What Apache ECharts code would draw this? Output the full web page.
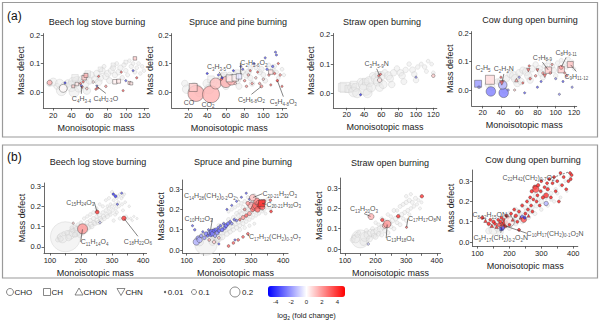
<!DOCTYPE html>
<html>
<head>
<meta charset="utf-8">
<script src="https://cdn.jsdelivr.net/npm/echarts@6/dist/echarts.min.js"></script>
<style>
html, body { margin: 0; padding: 0; background: #fff; }
#main { width: 600px; height: 325px; }
</style>
</head>
<body>
<div id="main"></div>
<script>
var FONT = '"Liberation Sans", Arial, Helvetica, sans-serif';

// axis ticks and legend keys
var massTicksA = [20, 40, 60, 80, 100, 120];
var massTicksB = [100, 200, 300, 400];
var massMinorB = [100, 150, 200, 250, 300, 350, 400];
var defectTicksA = [0, 0.1, 0.2];
var defectTicksB = [0, 0.1, 0.2, 0.3];
var panelTitles = ['Beech log stove burning', 'Spruce and pine burning', 'Straw open burning', 'Cow dung open burning'];
var shapeKeys = ['o', 's', 't', 'v'];
var shapeNames = ['CHO', 'CH', 'CHON', 'CHN'];
var sizeKeys = [0.01, 0.1, 0.2];
var colorTicks = [-4, -2, 0, 2, 4];

// background (all molecules): [mass, mass defect, fraction, shape]
var beechA_bg = [[16,0.03,0.12,'o'],[20,0.035,0.16,'o'],[24,0.02,0.12,'o'],[27,0.03,0.17,'o'],[29,0.005,0.2,'o'],[32,0.02,0.16,'o'],[36,0.03,0.15,'o'],[40,0.02,0.21,'o'],[42,0.035,0.19,'o'],[43,0.0,0.2,'o'],[46,0.04,0.17,'o'],[48,0.015,0.17,'o'],[52,0.045,0.15,'o'],[54,0.03,0.19,'o'],[56,0.055,0.16,'o'],[57,0.005,0.15,'o'],[60,0.04,0.14,'o'],[62,0.06,0.13,'o'],[66,0.045,0.14,'o'],[68,0.065,0.13,'o'],[70,0.035,0.14,'o'],[72,0.05,0.13,'o'],[74,0.075,0.12,'o'],[76,0.09,0.08,'o'],[78,0.055,0.13,'o'],[80,0.065,0.13,'o'],[82,0.04,0.12,'o'],[84,0.075,0.12,'o'],[86,0.085,0.11,'o'],[88,0.06,0.11,'o'],[90,0.1,0.075,'o'],[92,0.07,0.11,'o'],[94,0.085,0.11,'o'],[96,0.05,0.09,'o'],[98,0.095,0.09,'o'],[100,0.075,0.09,'o'],[102,0.06,0.08,'o'],[104,0.11,0.07,'o'],[106,0.09,0.09,'o'],[108,0.1,0.075,'o'],[110,0.07,0.08,'o'],[112,0.085,0.075,'o'],[114,0.1,0.075,'o'],[116,0.065,0.07,'o'],[118,0.09,0.07,'o'],[120,0.075,0.07,'o'],[44,0.05,0.13,'s'],[58,0.065,0.11,'s'],[72,0.08,0.09,'s'],[86,0.095,0.08,'s'],[100,0.105,0.075,'s']];
var spruceA_bg = [[16,0.03,0.13,'o'],[18,0.01,0.17,'o'],[26,0.02,0.15,'o'],[30,0.01,0.17,'o'],[32,0.0,0.19,'o'],[40,0.03,0.17,'o'],[42,0.01,0.19,'o'],[46,0.03,0.15,'o'],[54,0.04,0.15,'o'],[56,0.05,0.17,'o'],[58,0.03,0.15,'o'],[60,0.02,0.13,'o'],[64,0.06,0.11,'o'],[68,0.05,0.13,'o'],[70,0.06,0.13,'o'],[72,0.04,0.13,'o'],[74,0.02,0.12,'o'],[78,0.07,0.1,'o'],[82,0.06,0.13,'o'],[84,0.07,0.12,'o'],[86,0.05,0.11,'o'],[88,0.03,0.11,'o'],[92,0.085,0.08,'o'],[96,0.07,0.11,'o'],[98,0.08,0.11,'o'],[100,0.06,0.1,'o'],[102,0.04,0.1,'o'],[106,0.095,0.08,'o'],[110,0.08,0.1,'o'],[112,0.09,0.08,'o'],[114,0.07,0.08,'o'],[116,0.05,0.075,'o'],[120,0.08,0.075,'o'],[122,0.06,0.07,'o'],[44,0.045,0.13,'s'],[58,0.06,0.11,'s'],[72,0.07,0.09,'s'],[86,0.085,0.08,'s']];
var strawA_bg = [[15,0.02,0.16,'s'],[18,0.02,0.2,'s'],[22,0.015,0.14,'s'],[26,0.02,0.17,'o'],[28,0.005,0.2,'o'],[28,0.03,0.13,'s'],[30,0.02,0.16,'o'],[32,0.0,0.18,'o'],[36,0.04,0.13,'o'],[40,0.03,0.22,'o'],[42,0.015,0.26,'o'],[42,0.04,0.13,'s'],[44,0.0,0.18,'o'],[46,0.04,0.2,'o'],[48,0.02,0.18,'o'],[50,0.06,0.13,'o'],[54,0.05,0.2,'o'],[56,0.04,0.18,'o'],[56,0.065,0.11,'s'],[58,0.02,0.16,'o'],[60,0.06,0.17,'o'],[62,0.03,0.16,'o'],[64,0.07,0.13,'o'],[68,0.06,0.16,'o'],[70,0.05,0.14,'o'],[72,0.03,0.13,'o'],[74,0.07,0.13,'o'],[78,0.085,0.11,'o'],[82,0.07,0.13,'o'],[84,0.06,0.13,'o'],[86,0.04,0.12,'o'],[88,0.08,0.11,'o'],[92,0.1,0.09,'o'],[96,0.08,0.12,'o'],[98,0.065,0.11,'o'],[100,0.045,0.11,'o'],[102,0.09,0.09,'o'],[106,0.1,0.08,'o'],[110,0.09,0.09,'o'],[112,0.075,0.08,'o'],[114,0.11,0.075,'o'],[118,0.1,0.075,'o'],[120,0.07,0.075,'o']];
var cowA_bg = [[26,0.02,0.13,'o'],[30,0.01,0.13,'o'],[36,0.03,0.11,'o'],[40,0.03,0.15,'o'],[42,0.015,0.17,'o'],[44,0.0,0.13,'o'],[46,0.04,0.13,'o'],[50,0.055,0.13,'o'],[54,0.05,0.17,'o'],[56,0.04,0.17,'o'],[58,0.025,0.15,'o'],[60,0.06,0.14,'o'],[62,0.03,0.13,'o'],[64,0.07,0.13,'o'],[68,0.065,0.16,'o'],[70,0.05,0.15,'o'],[72,0.035,0.13,'o'],[74,0.075,0.13,'o'],[78,0.09,0.11,'o'],[82,0.075,0.13,'o'],[84,0.06,0.13,'o'],[86,0.045,0.11,'o'],[88,0.085,0.11,'o'],[92,0.1,0.09,'o'],[96,0.085,0.11,'o'],[98,0.07,0.11,'o'],[100,0.05,0.09,'o'],[102,0.095,0.09,'o'],[106,0.105,0.08,'o'],[110,0.095,0.08,'o'],[112,0.08,0.075,'o'],[114,0.11,0.075,'o'],[118,0.1,0.07,'o'],[120,0.075,0.07,'o']];
var beechB_bg = [[150,0.05,0.6,'o'],[140,0.045,0.2,'o'],[165,0.06,0.18,'o'],[175,0.07,0.16,'o'],[175,0.08,0.1,'o'],[185,0.065,0.12,'o'],[190,0.075,0.14,'o'],[195,0.06,0.1,'o'],[200,0.085,0.14,'o'],[125,0.035,0.085,'o'],[130,0.05,0.08,'o'],[135,0.04,0.1,'o'],[145,0.065,0.085,'o'],[155,0.07,0.09,'o'],[160,0.045,0.12,'o'],[170,0.085,0.08,'o'],[170,0.095,0.07,'o'],[180,0.06,0.1,'o'],[180,0.1,0.07,'o'],[185,0.09,0.085,'o'],[190,0.11,0.07,'o'],[195,0.1,0.08,'o'],[200,0.12,0.07,'o'],[205,0.07,0.1,'o'],[210,0.105,0.085,'o'],[210,0.14,0.065,'o'],[212,0.09,0.12,'o'],[215,0.08,0.09,'o'],[220,0.12,0.08,'o'],[220,0.15,0.065,'o'],[222,0.1,0.1,'o'],[225,0.095,0.09,'o'],[230,0.13,0.08,'o'],[230,0.16,0.07,'o'],[232,0.11,0.1,'o'],[235,0.1,0.085,'o'],[240,0.14,0.08,'o'],[240,0.17,0.07,'o'],[242,0.12,0.09,'o'],[245,0.115,0.085,'o'],[250,0.15,0.07,'o'],[250,0.19,0.065,'o'],[252,0.13,0.09,'o'],[255,0.12,0.085,'o'],[260,0.155,0.08,'o'],[260,0.21,0.06,'o'],[262,0.14,0.08,'o'],[265,0.13,0.085,'o'],[270,0.17,0.07,'o'],[270,0.2,0.065,'o'],[272,0.15,0.08,'o'],[275,0.14,0.08,'o'],[280,0.18,0.07,'o'],[280,0.23,0.06,'o'],[282,0.16,0.075,'o'],[285,0.15,0.08,'o'],[285,0.2,0.06,'o'],[290,0.19,0.065,'o'],[290,0.24,0.065,'o'],[292,0.17,0.07,'o'],[295,0.16,0.07,'o'],[295,0.21,0.06,'o'],[300,0.2,0.065,'o'],[300,0.27,0.065,'o'],[302,0.18,0.07,'o'],[305,0.13,0.065,'o'],[305,0.23,0.06,'o'],[310,0.21,0.06,'o'],[310,0.16,0.065,'o'],[312,0.19,0.065,'o'],[315,0.17,0.065,'o'],[315,0.24,0.055,'o'],[320,0.22,0.06,'o'],[320,0.25,0.06,'o'],[322,0.2,0.06,'o'],[325,0.14,0.065,'o'],[325,0.26,0.055,'o'],[330,0.24,0.06,'o'],[332,0.21,0.06,'o'],[335,0.18,0.06,'o'],[335,0.25,0.05,'o'],[340,0.26,0.05,'o'],[342,0.22,0.055,'o'],[345,0.15,0.06,'o'],[350,0.14,0.05,'o'],[355,0.2,0.05,'o'],[360,0.14,0.05,'o'],[365,0.13,0.045,'o'],[370,0.15,0.045,'o'],[380,0.14,0.045,'o']];
var spruceB_bg = [[160,0.03,0.45,'o'],[130,0.05,0.085,'o'],[140,0.04,0.16,'o'],[150,0.07,0.085,'o'],[170,0.09,0.08,'o'],[175,0.06,0.17,'o'],[180,0.04,0.14,'o'],[185,0.1,0.08,'o'],[190,0.07,0.16,'o'],[195,0.05,0.12,'o'],[200,0.06,0.14,'o'],[200,0.12,0.08,'o'],[205,0.1,0.09,'o'],[210,0.09,0.14,'o'],[210,0.065,0.12,'o'],[215,0.13,0.07,'o'],[215,0.11,0.09,'o'],[220,0.1,0.12,'o'],[225,0.08,0.1,'o'],[230,0.11,0.12,'o'],[230,0.15,0.08,'o'],[230,0.19,0.065,'o'],[235,0.09,0.09,'o'],[235,0.13,0.085,'o'],[240,0.12,0.12,'o'],[240,0.2,0.065,'o'],[245,0.1,0.085,'o'],[245,0.16,0.08,'o'],[250,0.13,0.1,'o'],[250,0.15,0.08,'o'],[250,0.21,0.065,'o'],[255,0.11,0.085,'o'],[255,0.18,0.08,'o'],[260,0.14,0.1,'o'],[260,0.17,0.075,'o'],[260,0.22,0.065,'o'],[265,0.12,0.08,'o'],[265,0.19,0.08,'o'],[265,0.1,0.08,'o'],[270,0.15,0.09,'o'],[270,0.18,0.075,'o'],[270,0.23,0.07,'o'],[275,0.13,0.08,'o'],[275,0.21,0.085,'o'],[280,0.16,0.09,'o'],[280,0.19,0.07,'o'],[280,0.24,0.07,'o'],[280,0.11,0.07,'o'],[285,0.14,0.07,'o'],[285,0.2,0.085,'o'],[290,0.17,0.085,'o'],[290,0.2,0.07,'o'],[290,0.26,0.065,'o'],[295,0.15,0.07,'o'],[295,0.22,0.085,'o'],[295,0.12,0.065,'o'],[300,0.18,0.085,'o'],[300,0.25,0.08,'o'],[305,0.16,0.065,'o'],[305,0.21,0.07,'o'],[310,0.19,0.08,'o'],[310,0.27,0.065,'o'],[310,0.24,0.065,'o'],[310,0.13,0.06,'o'],[315,0.17,0.065,'o'],[315,0.22,0.065,'o'],[320,0.2,0.08,'o'],[320,0.25,0.07,'o'],[325,0.18,0.065,'o'],[325,0.21,0.065,'o'],[330,0.21,0.07,'o'],[330,0.24,0.08,'o'],[335,0.19,0.06,'o'],[340,0.2,0.07,'o'],[340,0.23,0.07,'o'],[345,0.18,0.06,'o'],[350,0.21,0.065,'o'],[350,0.25,0.06,'o'],[360,0.2,0.06,'o'],[370,0.22,0.05,'o']];
var strawB_bg = [[150,0.05,0.36,'o'],[125,0.045,0.1,'o'],[130,0.06,0.085,'o'],[135,0.05,0.16,'o'],[140,0.07,0.1,'o'],[145,0.08,0.08,'o'],[160,0.035,0.14,'o'],[165,0.06,0.18,'o'],[170,0.09,0.085,'o'],[175,0.07,0.16,'o'],[180,0.05,0.12,'o'],[185,0.08,0.14,'o'],[190,0.1,0.08,'o'],[195,0.08,0.14,'o'],[195,0.065,0.1,'o'],[200,0.06,0.1,'o'],[200,0.13,0.07,'o'],[205,0.09,0.13,'o'],[210,0.075,0.09,'o'],[210,0.12,0.07,'o'],[215,0.1,0.12,'o'],[220,0.07,0.085,'o'],[220,0.15,0.07,'o'],[225,0.11,0.12,'o'],[230,0.09,0.085,'o'],[230,0.14,0.07,'o'],[235,0.12,0.1,'o'],[240,0.08,0.085,'o'],[240,0.17,0.07,'o'],[245,0.13,0.1,'o'],[250,0.11,0.08,'o'],[250,0.16,0.07,'o'],[255,0.14,0.09,'o'],[260,0.1,0.08,'o'],[260,0.19,0.08,'o'],[265,0.15,0.09,'o'],[270,0.13,0.08,'o'],[270,0.19,0.07,'o'],[275,0.16,0.085,'o'],[280,0.12,0.08,'o'],[280,0.21,0.08,'o'],[285,0.17,0.085,'o'],[290,0.15,0.07,'o'],[290,0.22,0.08,'o'],[295,0.18,0.08,'o'],[300,0.14,0.07,'o'],[300,0.23,0.085,'o'],[300,0.26,0.07,'o'],[305,0.19,0.08,'o'],[310,0.17,0.065,'o'],[310,0.24,0.085,'o'],[315,0.2,0.07,'o'],[315,0.27,0.065,'o'],[320,0.23,0.08,'o'],[325,0.21,0.07,'o'],[330,0.25,0.08,'o'],[335,0.22,0.065,'o'],[340,0.24,0.065,'o'],[345,0.2,0.06,'o'],[350,0.23,0.06,'o']];
var cowB_bg = [[135,0.055,0.12,'o'],[140,0.08,0.085,'o'],[150,0.06,0.18,'o'],[160,0.1,0.085,'o'],[165,0.07,0.16,'o'],[170,0.05,0.14,'o'],[180,0.08,0.16,'o'],[180,0.12,0.08,'o'],[195,0.09,0.14,'o'],[200,0.07,0.1,'o'],[200,0.14,0.08,'o'],[210,0.1,0.14,'o'],[220,0.09,0.085,'o'],[220,0.16,0.08,'o'],[225,0.12,0.13,'o'],[230,0.15,0.085,'o'],[240,0.13,0.12,'o'],[240,0.1,0.085,'o'],[240,0.18,0.08,'o'],[250,0.17,0.085,'o'],[255,0.15,0.12,'o'],[260,0.12,0.08,'o'],[260,0.2,0.08,'o'],[270,0.17,0.1,'o'],[270,0.15,0.085,'o'],[280,0.14,0.08,'o'],[280,0.23,0.07,'o'],[285,0.18,0.1,'o'],[290,0.21,0.08,'o'],[300,0.2,0.09,'o'],[300,0.16,0.07,'o'],[300,0.25,0.07,'o'],[310,0.23,0.08,'o'],[315,0.22,0.085,'o'],[320,0.18,0.07,'o'],[320,0.27,0.065,'o'],[330,0.24,0.08,'o'],[330,0.21,0.07,'o'],[340,0.2,0.065,'o'],[340,0.3,0.065,'o'],[345,0.26,0.07,'o'],[350,0.24,0.065,'o'],[360,0.28,0.065,'o'],[360,0.22,0.06,'o'],[375,0.3,0.06,'o'],[380,0.25,0.05,'o'],[390,0.32,0.05,'o']];

// compounds with fold change: [mass, mass defect, fraction, log2 fold change, shape]
var beechA_fc = [[16,0.033,0.1,1.5,'o'],[31,0.013,0.16,0.1,'o'],[33,0.032,0.01,-4,'o'],[42,0.02,0.06,1,'s'],[46,0.028,0.07,0.5,'s'],[50,0.03,0.01,3,'o'],[51,0.022,0.01,-3,'o'],[52,0.016,0.01,3,'v'],[53,0.036,0.01,3,'o'],[54,0.05,0.09,1,'s'],[56,0.058,0.08,1.5,'s'],[57,0.012,0.05,1,'o'],[64,0.035,0.05,0.5,'o'],[67,0.01,0.01,3,'o'],[68,0.02,0.01,-3,'v'],[69,0.014,0.01,3,'o'],[70,0.055,0.01,3,'o'],[78,0.02,0.05,2,'o'],[88,0.036,0.09,0.3,'s'],[92,0.038,0.08,0.5,'s'],[95,0.07,0.01,3,'o'],[97,0.005,0.01,3,'o'],[100,0.04,0.01,-3,'o'],[104,0.032,0.06,1,'s'],[106,0.03,0.06,0.5,'s'],[110,0.118,0.07,1,'s'],[112,0.05,0.01,3,'o'],[108,0.075,0.01,-3,'o']];
var spruceA_fc = [[28,-0.005,0.32,1.5,'o'],[44,-0.008,0.34,1.5,'o'],[25,0.016,0.16,1,'s'],[49,0.03,0.22,1.2,'o'],[60,0.035,0.22,1.5,'o'],[66,0.042,0.2,1.5,'o'],[55,0.045,0.05,3,'o'],[56,0.05,0.01,-4,'o'],[52,0.06,0.01,-3,'o'],[40,0.065,0.01,-4,'o'],[64,0.048,0.14,0.2,'s'],[70,0.05,0.13,0.1,'s'],[74,0.055,0.11,-0.5,'s'],[68,0.075,0.01,-4,'o'],[70,0.03,0.05,1,'o'],[76,0.09,0.01,-3,'o'],[78,0.08,0.01,-3,'o'],[80,0.04,0.05,2,'o'],[82,0.02,0.05,2,'o'],[84,0.06,0.05,1.5,'o'],[86,0.075,0.01,3,'o'],[88,0.03,0.05,2,'o'],[90,0.1,0.01,-3,'o'],[92,0.05,0.05,1,'o'],[94,0.07,0.01,3,'o'],[96,0.03,0.05,2,'o'],[98,0.02,0.06,2,'o'],[100,0.045,0.05,1,'o'],[102,0.12,0.01,-3,'o'],[104,0.08,0.05,-3,'o'],[106,0.06,0.05,2,'o'],[108,0.025,0.01,3,'o'],[108,0.07,0.09,0.5,'s'],[110,0.09,0.05,-3,'o'],[112,0.065,0.05,3,'o'],[113,0.14,0.01,-3,'o'],[114,0.13,0.01,-3,'o'],[115,0.04,0.05,4,'o'],[116,0.1,0.01,3,'o'],[118,0.06,0.05,2,'o'],[120,0.02,0.01,3,'o']];
var strawA_fc = [[36,-0.005,0.01,-4,'o'],[58,0.045,0.09,0.5,'o'],[57,0.06,0.01,3,'o'],[59,0.065,0.01,3,'o'],[100,0.055,0.01,-2,'o'],[120,0.06,0.07,1,'o']];
var cowA_fc = [[15,0.022,0.14,-2,'s'],[16,0.01,0.01,-2,'s'],[28,0.036,0.18,0.7,'s'],[29,-0.005,0.19,-2.5,'o'],[43,-0.01,0.19,-2.5,'o'],[42,0.018,0.17,-1.5,'o'],[41,0.025,0.09,3,'v'],[40,0.045,0.01,3,'o'],[48,0.0,0.01,-2,'o'],[55,0.0,0.01,1,'o'],[57,0.035,0.07,2,'t'],[60,0.045,0.01,-2,'o'],[64,0.025,0.01,3,'o'],[66,-0.01,0.01,-3,'o'],[70,0.07,0.07,3,'v'],[71,0.085,0.01,3,'o'],[72,0.04,0.05,3,'o'],[78,0.05,0.05,2,'o'],[80,0.07,0.06,3,'v'],[80,0.01,0.01,-3,'o'],[84,0.03,0.01,-3,'o'],[86,0.06,0.05,2,'o'],[88,0.05,0.07,3,'v'],[92,0.07,0.13,1,'s'],[94,0.06,0.05,2,'o'],[96,0.09,0.01,2,'o'],[100,0.04,0.01,-2,'o'],[104,-0.015,0.01,-2,'o'],[106,0.072,0.13,1,'s'],[106,0.08,0.08,2,'o'],[108,0.03,0.01,-3,'o'],[110,0.06,0.01,2,'o'],[112,0.05,0.01,3,'o'],[116,0.09,0.12,1.2,'s'],[118,0.01,0.01,-2,'o']];
var beechB_fc = [[205,0.089,0.2,2,'o'],[252,0.172,0.08,4,'o'],[338,0.141,0.09,4,'o'],[304,0.26,0.05,-4,'o'],[311,0.25,0.06,-4,'o'],[331,0.265,0.04,-3,'o'],[317,0.21,0.04,-3,'o'],[261,0.12,0.05,-1,'o'],[175,0.117,0.04,1,'o']];
var spruceB_fc = [[118,0.12,0.04,-3,'o'],[125,0.1,0.05,-3,'o'],[130,0.04,0.13,-1.5,'o'],[135,0.06,0.08,-2,'o'],[140,0.05,0.11,-1.5,'o'],[145,0.07,0.07,-2,'o'],[150,0.09,0.04,-3,'o'],[155,0.06,0.07,-2,'o'],[160,0.08,0.08,-2.5,'o'],[165,0.07,0.055,-3,'o'],[168,0.1,0.04,-3,'o'],[172,0.085,0.09,-2,'o'],[175,0.075,0.08,-3,'o'],[178,0.09,0.1,-3,'o'],[180,0.08,0.09,-2.5,'o'],[185,0.095,0.08,-3,'o'],[188,0.07,0.07,-2,'o'],[190,0.1,0.07,-3,'o'],[195,0.085,0.08,-2.5,'o'],[198,0.11,0.055,-3,'o'],[200,0.095,0.07,-3,'o'],[205,0.12,0.055,-3,'o'],[210,0.1,0.08,-3,'o'],[215,0.13,0.05,-3,'o'],[218,0.11,0.07,-2.5,'o'],[222,0.12,0.08,-3,'o'],[228,0.13,0.07,-3,'o'],[235,0.14,0.055,-3,'o'],[240,0.13,0.055,-2,'o'],[248,0.15,0.05,-3,'o'],[255,0.145,0.05,-2.5,'o'],[170,0.05,0.055,1.5,'o'],[185,0.04,0.07,1,'o'],[200,0.06,0.055,1,'o'],[225,0.2,0.04,-3,'o'],[240,0.22,0.04,-3,'o'],[255,0.24,0.04,-3,'o'],[270,0.26,0.04,-3,'o'],[285,0.28,0.04,-3,'o'],[295,0.25,0.04,-3,'o'],[300,0.23,0.055,-2,'o'],[300,0.22,0.13,1.5,'o'],[305,0.2,0.09,3,'o'],[310,0.21,0.11,2.5,'o'],[315,0.22,0.14,3,'o'],[318,0.24,0.13,2.5,'o'],[320,0.2,0.11,3,'o'],[325,0.23,0.13,2.5,'o'],[330,0.22,0.14,4,'o'],[333,0.235,0.11,3,'o'],[335,0.21,0.1,3,'o'],[340,0.24,0.08,3,'o'],[360,0.245,0.055,3,'o'],[362,0.19,0.055,4,'o'],[290,0.23,0.08,2,'o'],[295,0.18,0.08,2,'o'],[285,0.17,0.07,3,'o'],[275,0.16,0.08,2,'o'],[265,0.15,0.055,3,'o'],[280,0.2,0.055,2,'o'],[333,0.23,0.13,4,'s'],[305,0.258,0.13,1.2,'o'],[230,0.02,0.055,3,'o'],[245,0.035,0.055,3,'o'],[260,0.05,0.055,3,'o'],[275,0.065,0.055,3,'o'],[290,0.08,0.055,3,'o'],[250,0.05,0.04,-3,'o'],[200,0.03,0.04,-3,'o']];
var strawB_fc = [[185,0.16,0.12,1.5,'o'],[222,0.143,0.07,4,'o'],[230,0.115,0.1,1.5,'o'],[238,0.123,0.15,2,'o'],[274,0.162,0.07,4,'o'],[301,0.107,0.04,3,'o'],[351,0.26,0.07,4,'o'],[176,0.025,0.05,-1,'o']];
var cowB_fc = [[115,0.12,0.07,4.5,'o'],[125,0.105,0.07,4.5,'t'],[135,0.09,0.07,4.5,'o'],[140,0.11,0.06,4.5,'o'],[145,0.08,0.07,4.5,'t'],[150,0.1,0.07,4.5,'o'],[155,0.09,0.06,4.5,'o'],[160,0.075,0.07,4.5,'t'],[165,0.11,0.06,4.5,'o'],[168,0.085,0.08,3.5,'o'],[172,0.1,0.07,4.5,'o'],[175,0.065,0.07,-4,'s'],[175,0.12,0.06,4.5,'o'],[178,0.09,0.07,4.5,'t'],[180,0.075,0.08,3.5,'o'],[180,0.07,0.07,-3,'o'],[182,0.11,0.06,4.5,'o'],[185,0.095,0.08,4.5,'o'],[188,0.08,0.07,4.5,'o'],[190,0.13,0.06,4.5,'o'],[192,0.1,0.07,4.5,'t'],[195,0.12,0.06,4.5,'o'],[200,0.1,0.2,0.3,'o'],[200,0.085,0.06,4.5,'o'],[205,0.14,0.06,4.5,'o'],[210,0.11,0.06,4.5,'t'],[215,0.16,0.06,4.5,'o'],[220,0.13,0.07,4.5,'o'],[225,0.1,0.06,4.5,'o'],[230,0.15,0.06,4.5,'o'],[230,0.06,0.06,4.5,'o'],[235,0.12,0.06,4.5,'t'],[240,0.18,0.06,4.5,'o'],[240,0.125,0.07,-3,'o'],[245,0.11,0.11,3.5,'o'],[248,0.12,0.06,-4,'o'],[250,0.14,0.06,4.5,'o'],[255,0.2,0.06,4.5,'o'],[258,0.16,0.06,4.5,'o'],[260,0.13,0.06,4.5,'t'],[265,0.22,0.06,4.5,'o'],[268,0.18,0.06,4.5,'o'],[270,0.25,0.07,4.5,'o'],[272,0.15,0.06,4.5,'o'],[275,0.21,0.06,4.5,'o'],[280,0.27,0.09,4.5,'o'],[283,0.26,0.13,3.5,'o'],[285,0.2,0.06,4.5,'o'],[288,0.23,0.06,4.5,'o'],[290,0.28,0.07,4.5,'o'],[295,0.18,0.06,4.5,'o'],[298,0.25,0.06,4.5,'o'],[300,0.3,0.06,4.5,'o'],[305,0.22,0.07,4.5,'o'],[310,0.27,0.06,4.5,'o'],[315,0.23,0.1,4,'o'],[315,0.19,0.09,-1.5,'o'],[318,0.29,0.06,4.5,'o'],[320,0.26,0.07,4.5,'o'],[325,0.31,0.06,4.5,'o'],[330,0.22,0.06,4.5,'o'],[335,0.29,0.06,4.5,'o'],[340,0.32,0.06,4.5,'o'],[345,0.25,0.06,4.5,'o'],[350,0.3,0.06,4.5,'o'],[355,0.2,0.06,4.5,'o'],[360,0.34,0.06,4.5,'o'],[365,0.28,0.06,4.5,'o'],[370,0.32,0.06,4.5,'o'],[378,0.26,0.06,4.5,'o'],[385,0.3,0.06,4.5,'o'],[390,0.34,0.06,4.5,'o'],[392,0.31,0.06,4.5,'o'],[395,0.33,0.06,4.5,'o']];

// formula annotations: text, anchor compound, label offset in px, leader style
var beechA_notes = [
  {t: 'C{s|4}H{s|3-4}', m: 51, d: 0.022, dx: 0, dy: 13, line: 'solid'},
  {t: 'C{s|4}H{s|2-3}O', m: 68, d: 0.02, dx: 9, dy: 12, line: 'solid'}
];
var spruceA_notes = [
  {t: 'CO', m: 28, d: -0.005, dx: -7, dy: 9, line: 'none'},
  {t: 'CO{s|2}', m: 44, d: -0.008, dx: -3, dy: 10, line: 'none'},
  {t: 'C{s|3}H{s|3-5}O', m: 56, d: 0.05, dx: -3, dy: -11, line: 'solid'},
  {t: 'C{s|2}H{s|2-6}O{s|2}', m: 76, d: 0.06, dx: 13, dy: -12, line: 'solid'},
  {t: 'C{s|5}H{s|6-8}O{s|2}', m: 98, d: 0.02, dx: -10, dy: 13, line: 'solid'},
  {t: 'C{s|5}H{s|4-8}O{s|3}', m: 115, d: 0.04, dx: 6, dy: 21, line: 'solid'}
];
var strawA_notes = [
  {t: 'C{s|3}H{s|5-9}N', m: 58, d: 0.06, dx: -3, dy: -12, line: 'solid'}
];
var cowA_notes = [
  {t: 'C{s|2}H{s|5}', m: 28, d: 0.036, dx: -7, dy: -12, line: 'none'},
  {t: 'C{s|2}H{s|3}N', m: 41, d: 0.025, dx: 2, dy: -14, line: 'solid'},
  {t: 'C{s|7}H{s|8-9}', m: 92, d: 0.07, dx: -6, dy: -13, line: 'solid'},
  {t: 'C{s|8}H{s|9-11}', m: 106, d: 0.08, dx: 5, dy: -15, line: 'solid'},
  {t: 'C{s|9}H{s|11-12}', m: 116, d: 0.09, dx: 6, dy: 12, line: 'solid'}
];
var beechB_notes = [
  {t: 'C{s|15}H{s|24}O{s|3}', m: 252, d: 0.172, dx: -17, dy: -10, line: 'solid'},
  {t: 'C{s|11}H{s|14}O{s|4}', m: 205, d: 0.089, dx: 12, dy: 13, line: 'solid'},
  {t: 'C{s|18}H{s|22}O{s|6}', m: 338, d: 0.141, dx: 14, dy: 23, line: 'solid'}
];
var spruceB_notes = [
  {t: 'C{s|14}H{s|28}(CH{s|2}){s|0-2}O{s|2}', m: 265, d: 0.238, dx: -30, dy: -6, line: 'dashed'},
  {t: 'C{s|10}H{s|12}O{s|3}', m: 174, d: 0.098, dx: -12, dy: -12, line: 'solid'},
  {t: 'C{s|20-21}H{s|32}O{s|3}', m: 305, d: 0.258, dx: 27, dy: -4, line: 'solid'},
  {t: 'C{s|20-21}H{s|30}O{s|3}', m: 333, d: 0.23, dx: 22, dy: 1, line: 'solid'},
  {t: 'C{s|17}H{s|12}(CH{s|2}){s|0-3}O{s|7}', m: 290, d: 0.08, dx: 27, dy: 3, line: 'dashed'}
];
var strawB_notes = [
  {t: 'C{s|13}H{s|20}O{s|3}', m: 185, d: 0.16, dx: -7, dy: -8, line: 'solid'},
  {t: 'C{s|13}H{s|18}O{s|4}', m: 238, d: 0.123, dx: 13, dy: 14, line: 'solid'},
  {t: 'C{s|17}H{s|17}O{s|8}N', m: 301, d: 0.107, dx: 18, dy: -9, line: 'solid'}
];
var cowB_notes = [
  {t: 'C{s|22}H{s|42}(CH{s|2}){s|0-7}O{s|2}', m: 385, d: 0.345, dx: -40, dy: 5, line: 'dashed'},
  {t: 'C{s|8-12}H{s|15}ON', m: 220, d: 0.12, dx: -26, dy: -3, line: 'dashed'},
  {t: 'C{s|10}H{s|17}(CH{s|2}){s|0-1}O{s|2}N', m: 180, d: 0.083, dx: 52, dy: 8, line: 'solid'},
  {t: 'C{s|9}H{s|17}(CH{s|2}){s|0-2}O{s|2}N', m: 176, d: 0.07, dx: -1, dy: 10, line: 'solid'}
];

var panels = [
  {bg: beechA_bg, fc: beechA_fc, notes: beechA_notes},
  {bg: spruceA_bg, fc: spruceA_fc, notes: spruceA_notes},
  {bg: strawA_bg, fc: strawA_fc, notes: strawA_notes},
  {bg: cowA_bg, fc: cowA_fc, notes: cowA_notes},
  {bg: beechB_bg, fc: beechB_fc, notes: beechB_notes},
  {bg: spruceB_bg, fc: spruceB_fc, notes: spruceB_notes},
  {bg: strawB_bg, fc: strawB_fc, notes: strawB_notes},
  {bg: cowB_bg, fc: cowB_fc, notes: cowB_notes}
];

// plot rectangles [left, top, width, height], axis ranges and title centres
var layout = [
  {grid: [43.3, 33.6, 105.2, 74.4], x: [9, 125], y: [-0.056, 0.205], title: [97, 22]},
  {grid: [171.7, 33.6, 115, 74.4], x: [2, 125], y: [-0.056, 0.205], title: [238, 22]},
  {grid: [333.3, 33.5, 103.5, 74.3], x: [4.5, 124], y: [-0.05, 0.205], title: [382, 22]},
  {grid: [471.7, 31.6, 105, 74.3], x: [8, 123], y: [-0.056, 0.206], title: [530, 20]},
  {grid: [44, 183, 102.6, 70], x: [81, 411], y: [-0.03, 0.315], title: [98, 162]},
  {grid: [182.7, 180, 105.4, 73.1], x: [87.6, 415], y: [-0.015, 0.345], title: [243, 162]},
  {grid: [340.7, 178, 99.8, 75.3], x: [86, 412], y: [-0.021, 0.35], title: [390, 163]},
  {grid: [472.5, 170, 105.3, 76.1], x: [84.3, 414.3], y: [-0.02, 0.355], title: [533, 160]}
];

var SYMBOL = {o: 'circle', s: 'rect', t: 'triangle', v: 'path://M0,0L10,0L5,9Z'};
// symbol diameter grows with the fraction (legend: 0.1 -> 5 px, 0.2 -> 10 px)
function bubble(f) { return 50 * f; }

var myChart = echarts.init(document.getElementById('main'), null, {renderer: 'svg'});

var grids = [], xAxes = [], yAxes = [], series = [], colorSeries = [], graphics = [];
var axisLineStyle = {color: '#444', width: 0.8};

panels.forEach(function (p, i) {
  var L = layout[i];
  var isA = i < 4;
  grids.push({left: L.grid[0], top: L.grid[1], width: L.grid[2], height: L.grid[3],
    containLabel: false, outerBoundsMode: 'none'});
  xAxes.push({
    type: 'value', gridIndex: i, min: L.x[0], max: L.x[1],
    name: 'Monoisotopic mass', nameLocation: 'middle', nameGap: 15,
    nameTextStyle: {fontSize: 9, color: '#222', fontFamily: FONT},
    axisLine: {show: true, onZero: false, lineStyle: axisLineStyle},
    axisTick: {show: true, length: 2.5, lineStyle: axisLineStyle, customValues: isA ? massTicksA : massMinorB},
    axisLabel: {fontSize: 7.5, color: '#222', margin: 3, fontFamily: FONT, customValues: isA ? massTicksA : massTicksB},
    splitLine: {show: false}
  });
  yAxes.push({
    type: 'value', gridIndex: i, min: L.y[0], max: L.y[1],
    name: 'Mass defect', nameLocation: 'middle', nameGap: 17,
    nameTextStyle: {fontSize: 9, color: '#222', fontFamily: FONT},
    axisLine: {show: true, onZero: false, lineStyle: axisLineStyle},
    axisTick: {show: true, length: 2.5, lineStyle: axisLineStyle, customValues: isA ? defectTicksA : defectTicksB},
    axisLabel: {fontSize: 7.5, color: '#222', margin: 3, fontFamily: FONT,
      customValues: isA ? defectTicksA : defectTicksB,
      formatter: function (v) { return v.toFixed(1); }},
    splitLine: {show: false}
  });

  series.push({
    type: 'scatter', xAxisIndex: i, yAxisIndex: i, z: 1, silent: true,
    data: p.bg.map(function (d) { return {value: [d[0], d[1], d[2]], symbol: SYMBOL[d[3]]}; }),
    symbolSize: function (v) { return bubble(v[2]); },
    itemStyle: {color: 'rgba(232,232,232,0.6)', borderColor: '#cbcbcb', borderWidth: 0.5}
  });
  colorSeries.push(series.length);
  series.push({
    type: 'scatter', xAxisIndex: i, yAxisIndex: i, z: 2, silent: true,
    data: p.fc.map(function (d) { return {value: [d[0], d[1], d[2], d[3]], symbol: SYMBOL[d[4]]}; }),
    symbolSize: function (v) { return Math.max(2.2, bubble(v[2])); },
    itemStyle: {borderColor: '#3a3a3a', borderWidth: 0.5}
  });
  series.push({
    type: 'scatter', xAxisIndex: i, yAxisIndex: i, z: 3, silent: true, clip: false,
    symbolSize: 1,
    itemStyle: {color: 'rgba(0,0,0,0)'},
    data: p.notes.map(function (n) {
      var item = {name: n.t, value: [n.m, n.d]};
      if (n.line === 'none') item.labelLine = {show: false};
      if (n.line === 'dashed') item.labelLine = {show: true, lineStyle: {type: [2, 1.5], color: '#333', width: 0.6}};
      return item;
    }),
    label: {
      show: true, position: 'inside', formatter: function (q) { return q.name; },
      fontSize: 7, lineHeight: 10, color: '#1a1a1a', fontFamily: FONT,
      rich: {s: {fontSize: 4.5, lineHeight: 5, verticalAlign: 'bottom', fontFamily: FONT, color: '#1a1a1a'}}
    },
    labelLine: {show: true, lineStyle: {color: '#333', width: 0.6}},
    labelLayout: (function (list) {
      return function (q) { var n = list[q.dataIndex]; return {dx: n.dx, dy: n.dy}; };
    })(p.notes)
  });

  graphics.push({type: 'text', x: L.title[0], y: L.title[1], silent: true,
    style: {text: panelTitles[i % 4], align: 'center', verticalAlign: 'middle', fontSize: 9, fill: '#222', fontFamily: FONT}});
});

// frames and panel letters
graphics.push({type: 'rect', shape: {x: 2.5, y: 2.5, width: 595, height: 134.5}, silent: true,
  style: {fill: 'none', stroke: '#9a9a9a', lineWidth: 1.2}});
graphics.push({type: 'rect', shape: {x: 2.5, y: 145, width: 595, height: 133}, silent: true,
  style: {fill: 'none', stroke: '#9a9a9a', lineWidth: 1.2}});
graphics.push({type: 'text', x: 7, y: 16, style: {text: '(a)', verticalAlign: 'middle', fontSize: 12, fill: '#111', fontFamily: FONT}});
graphics.push({type: 'text', x: 7, y: 157, style: {text: '(b)', verticalAlign: 'middle', fontSize: 12, fill: '#111', fontFamily: FONT}});

// legend: element groups
var legY = 292;
var shapeX = [10, 47, 79, 121];
var legStroke = {fill: '#fff', stroke: '#555', lineWidth: 0.7};
graphics.push({type: 'circle', shape: {cx: shapeX[0], cy: legY, r: 3.5}, style: legStroke});
graphics.push({type: 'rect', shape: {x: shapeX[1] - 3.5, y: legY - 3.5, width: 7, height: 7}, style: legStroke});
graphics.push({type: 'polygon', shape: {points: [[shapeX[2] - 4, legY + 3], [shapeX[2] + 4, legY + 3], [shapeX[2], legY - 4]]}, style: legStroke});
graphics.push({type: 'polygon', shape: {points: [[shapeX[3] - 4, legY - 3.5], [shapeX[3] + 4, legY - 3.5], [shapeX[3], legY + 3.5]]}, style: legStroke});
shapeKeys.forEach(function (k, j) {
  graphics.push({type: 'text', x: shapeX[j] + 4.5, y: legY, style: {text: shapeNames[j], verticalAlign: 'middle', fontSize: 8, fill: '#222', fontFamily: FONT}});
});
// size key
var sizeX = [165, 194, 235];
sizeKeys.forEach(function (f, j) {
  var r = Math.max(0.8, bubble(f) / 2);
  graphics.push({type: 'circle', shape: {cx: sizeX[j], cy: legY, r: r}, style: {fill: j === 0 ? '#555' : '#fff', stroke: '#555', lineWidth: 0.7}});
  graphics.push({type: 'text', x: sizeX[j] + r + 2, y: legY, style: {text: String(f), verticalAlign: 'middle', fontSize: 8, fill: '#222', fontFamily: FONT}});
});
// colour bar ticks and title
var barLeft = 268, barLen = 77, barTop = 286;
colorTicks.forEach(function (v) {
  graphics.push({type: 'text', x: barLeft + (v + 5) / 10 * barLen, y: barTop + 16, style: {text: String(v), align: 'center', verticalAlign: 'middle', fontSize: 6, fill: '#222', fontFamily: FONT}});
});
graphics.push({type: 'text', x: barLeft + barLen / 2, y: 315, style: {text: 'log{s|2} (fold change)', align: 'center', verticalAlign: 'middle', fontSize: 7.5, lineHeight: 10, fill: '#222', fontFamily: FONT,
  rich: {s: {fontSize: 5, lineHeight: 5, verticalAlign: 'bottom', fontFamily: FONT}}}});

var option = {
  animation: false,
  textStyle: {fontFamily: FONT},
  grid: grids,
  xAxis: xAxes,
  yAxis: yAxes,
  visualMap: {
    type: 'continuous', show: true, min: -5, max: 5, dimension: 3, seriesIndex: colorSeries,
    inRange: {color: ['#0000ff', '#ffffff', '#ff0000']},
    orient: 'horizontal', left: barLeft, top: barTop, itemWidth: 11, itemHeight: barLen,
    padding: 0, calculable: false, hoverLink: false, text: null
  },
  series: series,
  graphic: graphics
};
myChart.setOption(option);
</script>
</body>
</html>
